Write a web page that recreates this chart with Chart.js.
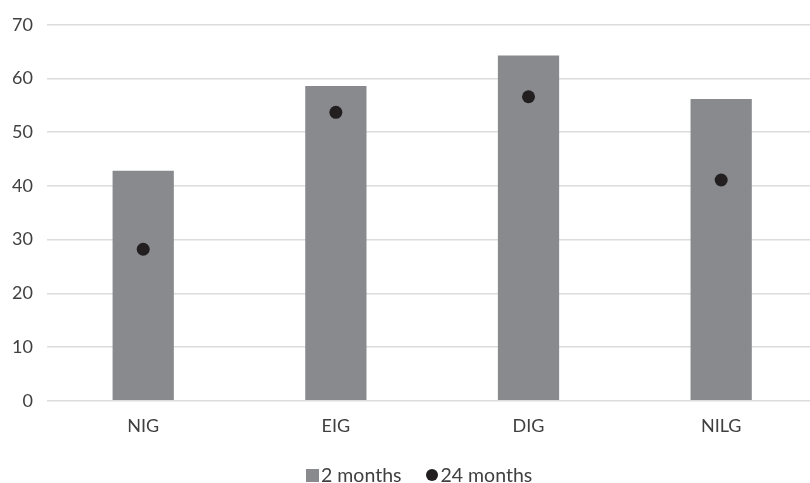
<!DOCTYPE html>
<html>
<head>
<meta charset="utf-8">
<script src="https://cdn.jsdelivr.net/npm/chart.js@4/dist/chart.umd.min.js"></script>
<style>
  html, body { margin: 0; padding: 0; background: #fff; overflow: hidden; }
  #wrap { position: relative; width: 826px; height: 483px; }
  #myChart { display: block; margin-left: -2px; }
  #legend {
    position: absolute; left: 306px; top: 464px;
    font-family: Lato, sans-serif; font-size: 19.5px; color: #404040;
    display: flex; align-items: center; white-space: nowrap; line-height: 22px;
  }
  #legend .sq { display: inline-block; width: 13px; height: 13px; background: #898a8e; margin-right: 2px; }
  #legend .dot { display: inline-block; width: 12px; height: 12px; border-radius: 50%; background: #231f20; margin-left: 25px; margin-right: 2px; }
</style>
</head>
<body>
<div id="wrap">
  <canvas id="myChart" width="826" height="483"></canvas>
  <div id="legend"><span class="sq"></span>2 months<span class="dot"></span>24 months</div>
</div>
<script>
// categories and values
const groups = ["NIG", "EIG", "DIG", "NILG"];
const months2 = [42.8, 58.6, 64.3, 56.2];
const months24 = [28.2, 53.7, 56.6, 41.1];
const yTicks = [0, 10, 20, 30, 40, 50, 60, 70];

const ctx = document.getElementById("myChart");
const chart = new Chart(ctx, {
  type: "bar",
  data: {
    labels: groups,
    datasets: [
      {
        type: "line",
        label: "24 months",
        data: months24,
        showLine: false,
        pointRadius: 6.5,
        pointHoverRadius: 6.5,
        pointBackgroundColor: "#231f20",
        pointBorderWidth: 0,
        borderColor: "#231f20",
        order: 0,
      },
      {
        type: "bar",
        label: "2 months",
        data: months2,
        backgroundColor: "#898a8e",
        barPercentage: 1,
        categoryPercentage: 0.318,
        order: 1,
      },
    ],
  },
  options: {
    responsive: false,
    animation: false,
    devicePixelRatio: 1,
    layout: { padding: { left: 0, right: 2.5, top: 23, bottom: 39.7 } },
    plugins: {
      legend: { display: false },
      tooltip: { enabled: false },
    },
    scales: {
      x: {
        grid: { display: false },
        border: { display: false },
        ticks: {
          color: "#404040",
          font: { family: "Lato", size: 18 },
          padding: 6.5,
        },
      },
      y: {
        min: 0,
        max: 70,
        afterBuildTicks: (axis) => {
          axis.ticks = yTicks.map((v) => ({ value: v }));
        },
        grid: { color: "#dcdcdc", lineWidth: 1.5, drawTicks: false },
        border: { display: false },
        ticks: {
          color: "#404040",
          font: { family: "Lato", size: 18 },
          padding: 14,
        },
      },
    },
  },
});
</script>
</body>
</html>
